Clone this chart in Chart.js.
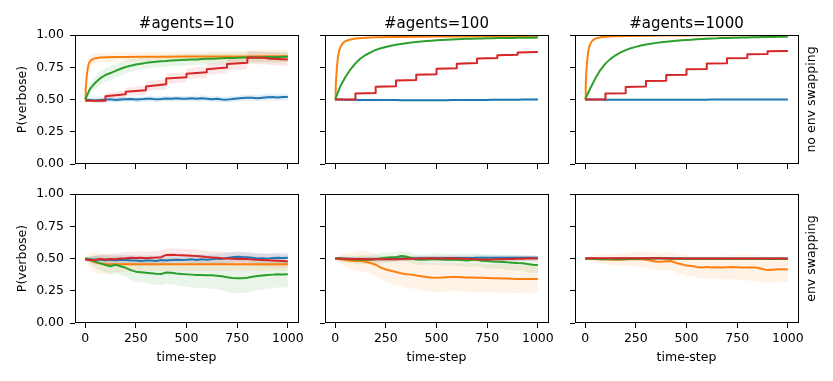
<!DOCTYPE html>
<html><head><meta charset="utf-8">
<script src="https://cdn.jsdelivr.net/npm/chart.js@4.4.0/dist/chart.umd.min.js"></script>
<style>
html,body{margin:0;padding:0;background:#fff;width:833px;height:381px;overflow:hidden;position:relative}
canvas{position:absolute}
</style></head><body>
<canvas id="p00" width="333" height="224"></canvas>
<canvas id="p01" width="333" height="224"></canvas>
<canvas id="p02" width="333" height="224"></canvas>
<canvas id="p10" width="333" height="224"></canvas>
<canvas id="p11" width="333" height="224"></canvas>
<canvas id="p12" width="333" height="224"></canvas>
<script>
// ---------- labels / ticks ----------
const PANEL_TITLES = ['#agents=10', '#agents=100', '#agents=1000'];
const ROW_LABELS = ['no env swapping', 'env swapping'];
const X_TITLE = 'time-step';
const Y_TITLE = 'P(verbose)';
const X_TICKS = [0, 250, 500, 750, 1000];
const X_TICK_LABELS = ['0', '250', '500', '750', '1000'];
const Y_TICKS = [0, 0.25, 0.5, 0.75, 1];
const Y_TICK_LABELS = ['0.00', '0.25', '0.50', '0.75', '1.00'];

// ---------- time grids ----------
const X_STEPS = [0,25,50,75,100,125,150,175,200,225,250,275,300,325,350,375,400,425,450,475,500,525,550,575,600,625,650,675,700,725,750,775,800,825,850,875,900,925,950,975,1000];
const X_FAST = [0,3,6,10,15,20,30,40,50,75,100,150,200,300,400,500,600,700,800,900,1000];
const X_STAIR = [0,100,100,200,200,300,300,400,400,500,500,600,600,700,700,800,800,900,900,1000];

// ---------- #agents=10, no env swapping ----------
const n10_noswap_blue = [
0.500,0.497,0.493,0.496,0.499,0.501,0.497,0.500,0.502,0.504,
0.500,0.501,0.505,0.506,0.501,0.504,0.508,0.505,0.509,0.506,
0.505,0.509,0.506,0.510,0.506,0.502,0.505,0.500,0.499,0.503,
0.508,0.511,0.514,0.513,0.510,0.514,0.518,0.519,0.516,0.519,
0.520];
const n10_noswap_blue_ci = [
0.005,0.015,0.018,0.020,0.020,0.020,0.020,0.020,0.020,0.020,
0.020,0.021,0.021,0.022,0.022,0.022,0.022,0.022,0.022,0.022,
0.022,0.022,0.022,0.022,0.022,0.022,0.022,0.022,0.022,0.022,
0.022,0.022,0.023,0.023,0.023,0.024,0.024,0.024,0.025,0.025,
0.025];
const n10_noswap_orange = [0.500,0.580,0.650,0.710,0.760,0.785,0.805,0.815,0.820,0.825,0.828,0.830,0.830,0.832,0.832,0.833,0.833,0.834,0.834,0.835,0.835];
const n10_noswap_orange_ci = [0.010,0.040,0.050,0.050,0.050,0.050,0.045,0.040,0.040,0.035,0.035,0.035,0.035,0.035,0.035,0.035,0.040,0.040,0.045,0.050,0.050];
const n10_noswap_green = [
0.500,0.585,0.630,0.665,0.690,0.705,0.722,0.738,0.752,0.762,
0.772,0.778,0.784,0.789,0.793,0.797,0.799,0.802,0.804,0.806,
0.808,0.810,0.811,0.813,0.815,0.816,0.818,0.820,0.821,0.822,
0.823,0.825,0.826,0.827,0.828,0.828,0.829,0.830,0.830,0.831,
0.832];
const n10_noswap_green_ci = [
0.010,0.040,0.050,0.055,0.055,0.055,0.050,0.050,0.050,0.050,
0.045,0.045,0.045,0.045,0.045,0.045,0.045,0.045,0.045,0.045,
0.045,0.045,0.042,0.042,0.042,0.042,0.040,0.040,0.040,0.040,
0.040,0.040,0.040,0.040,0.040,0.040,0.040,0.040,0.040,0.040,
0.040];
const n10_noswap_red = [0.490,0.490,0.525,0.540,0.560,0.572,0.600,0.618,0.662,0.672,0.700,0.712,0.735,0.748,0.775,0.785,0.825,0.822,0.818,0.810];
const n10_noswap_red_ci = [0.010,0.020,0.025,0.030,0.030,0.035,0.035,0.040,0.040,0.040,0.040,0.045,0.045,0.045,0.050,0.050,0.050,0.050,0.050,0.050];

// ---------- #agents=100, no env swapping ----------
const n100_noswap_blue = [
0.500,0.500,0.499,0.498,0.498,0.497,0.497,0.497,0.496,0.496,
0.496,0.496,0.496,0.495,0.495,0.495,0.495,0.495,0.495,0.495,
0.495,0.495,0.495,0.496,0.496,0.496,0.496,0.497,0.497,0.497,
0.497,0.498,0.498,0.498,0.499,0.499,0.499,0.500,0.500,0.500,
0.500];
const n100_noswap_blue_ci = [
0.003,0.006,0.007,0.008,0.008,0.008,0.008,0.008,0.008,0.008,
0.008,0.008,0.008,0.008,0.008,0.008,0.008,0.008,0.008,0.008,
0.008,0.008,0.008,0.008,0.008,0.008,0.008,0.008,0.008,0.008,
0.008,0.008,0.008,0.008,0.008,0.008,0.008,0.008,0.008,0.008,
0.008];
const n100_noswap_orange = [0.500,0.600,0.690,0.770,0.840,0.880,0.920,0.940,0.952,0.965,0.972,0.978,0.982,0.985,0.987,0.988,0.989,0.990,0.990,0.990,0.990];
const n100_noswap_orange_ci = [0.005,0.020,0.020,0.020,0.015,0.015,0.010,0.010,0.010,0.008,0.006,0.005,0.005,0.004,0.004,0.004,0.004,0.004,0.004,0.004,0.004];
const n100_noswap_green = [
0.500,0.600,0.672,0.732,0.780,0.818,0.845,0.866,0.884,0.897,
0.907,0.916,0.924,0.930,0.936,0.941,0.946,0.950,0.953,0.956,
0.959,0.961,0.963,0.965,0.967,0.969,0.970,0.971,0.972,0.973,
0.974,0.975,0.976,0.976,0.977,0.977,0.978,0.978,0.979,0.979,
0.980];
const n100_noswap_green_ci = [
0.005,0.015,0.015,0.012,0.010,0.010,0.008,0.008,0.007,0.006,
0.005,0.005,0.005,0.005,0.005,0.005,0.005,0.005,0.005,0.005,
0.005,0.005,0.005,0.005,0.005,0.005,0.005,0.005,0.005,0.005,
0.005,0.005,0.005,0.005,0.005,0.005,0.005,0.005,0.005,0.005,
0.005];
const n100_noswap_red = [0.500,0.500,0.546,0.550,0.598,0.602,0.648,0.652,0.692,0.696,0.738,0.742,0.778,0.782,0.817,0.821,0.843,0.846,0.865,0.868];
const n100_noswap_red_ci = [0.004,0.005,0.006,0.007,0.007,0.008,0.008,0.008,0.008,0.008,0.008,0.008,0.008,0.008,0.008,0.008,0.008,0.008,0.008,0.008];

// ---------- #agents=1000, no env swapping ----------
const n1000_noswap_blue = [
0.500,0.500,0.500,0.500,0.499,0.499,0.499,0.499,0.499,0.499,
0.499,0.499,0.499,0.499,0.499,0.499,0.499,0.499,0.499,0.499,
0.499,0.499,0.499,0.499,0.499,0.500,0.500,0.500,0.500,0.500,
0.500,0.500,0.500,0.500,0.500,0.500,0.500,0.500,0.500,0.500,
0.500];
const n1000_noswap_blue_ci = [
0.002,0.003,0.003,0.003,0.003,0.003,0.003,0.003,0.003,0.003,
0.003,0.003,0.003,0.003,0.003,0.003,0.003,0.003,0.003,0.003,
0.003,0.003,0.003,0.003,0.003,0.003,0.003,0.003,0.003,0.003,
0.003,0.003,0.003,0.003,0.003,0.003,0.003,0.003,0.003,0.003,
0.003];
const n1000_noswap_orange = [0.500,0.620,0.720,0.800,0.870,0.910,0.945,0.962,0.972,0.982,0.987,0.991,0.993,0.995,0.996,0.997,0.998,0.998,0.999,0.999,1.000];
const n1000_noswap_orange_ci = [0.003,0.008,0.008,0.008,0.006,0.005,0.004,0.003,0.003,0.002,0.002,0.002,0.002,0.002,0.002,0.002,0.002,0.002,0.002,0.002,0.002];
const n1000_noswap_green = [
0.500,0.585,0.662,0.728,0.778,0.815,0.843,0.865,0.883,0.897,
0.908,0.918,0.926,0.933,0.939,0.944,0.948,0.952,0.956,0.959,
0.962,0.964,0.967,0.969,0.971,0.973,0.974,0.976,0.977,0.978,
0.979,0.980,0.981,0.982,0.983,0.984,0.984,0.985,0.986,0.986,
0.987];
const n1000_noswap_green_ci = [
0.002,0.003,0.003,0.003,0.003,0.003,0.003,0.003,0.003,0.003,
0.003,0.003,0.003,0.003,0.003,0.003,0.003,0.003,0.003,0.003,
0.003,0.003,0.003,0.003,0.003,0.003,0.003,0.003,0.003,0.003,
0.003,0.003,0.003,0.003,0.003,0.003,0.003,0.003,0.003,0.003,
0.003];
const n1000_noswap_red = [0.500,0.500,0.547,0.549,0.597,0.600,0.643,0.646,0.690,0.692,0.734,0.736,0.779,0.781,0.819,0.821,0.850,0.852,0.874,0.876];
const n1000_noswap_red_ci = [0.002,0.003,0.003,0.003,0.003,0.003,0.003,0.003,0.003,0.003,0.003,0.003,0.003,0.003,0.003,0.003,0.003,0.003,0.003,0.003];

// ---------- #agents=10, env swapping ----------
const n10_swap_blue = [
0.500,0.495,0.490,0.492,0.487,0.490,0.486,0.490,0.489,0.486,
0.484,0.481,0.485,0.484,0.480,0.488,0.485,0.489,0.490,0.488,
0.490,0.494,0.489,0.495,0.491,0.494,0.499,0.497,0.504,0.509,
0.514,0.511,0.509,0.505,0.500,0.501,0.499,0.503,0.505,0.504,
0.506];
const n10_swap_blue_ci = [
0.005,0.020,0.030,0.035,0.035,0.040,0.040,0.040,0.040,0.040,
0.040,0.040,0.040,0.040,0.040,0.040,0.040,0.040,0.040,0.040,
0.040,0.040,0.040,0.040,0.040,0.040,0.040,0.040,0.040,0.040,
0.040,0.040,0.040,0.040,0.040,0.040,0.040,0.040,0.040,0.040,
0.040];
const n10_swap_orange = [
0.500,0.485,0.470,0.462,0.458,0.456,0.455,0.455,0.455,0.455,
0.455,0.455,0.455,0.455,0.455,0.455,0.455,0.455,0.455,0.455,
0.455,0.455,0.455,0.455,0.455,0.455,0.455,0.455,0.455,0.455,
0.455,0.455,0.455,0.455,0.455,0.455,0.455,0.455,0.455,0.455,
0.455];
const n10_swap_orange_ci = [
0.005,0.060,0.080,0.080,0.075,0.070,0.065,0.060,0.060,0.055,
0.050,0.050,0.050,0.050,0.050,0.050,0.050,0.050,0.050,0.050,
0.050,0.050,0.050,0.050,0.050,0.050,0.050,0.050,0.050,0.050,
0.050,0.050,0.050,0.050,0.050,0.050,0.050,0.050,0.050,0.050,
0.050];
const n10_swap_green = [
0.500,0.490,0.476,0.462,0.450,0.440,0.452,0.440,0.428,0.410,
0.398,0.394,0.390,0.386,0.381,0.380,0.392,0.389,0.384,0.380,
0.377,0.375,0.373,0.372,0.370,0.371,0.367,0.362,0.355,0.349,
0.346,0.347,0.350,0.358,0.365,0.369,0.372,0.375,0.377,0.376,
0.378];
const n10_swap_green_ci = [
0.005,0.030,0.045,0.055,0.060,0.065,0.065,0.070,0.070,0.075,
0.080,0.080,0.080,0.085,0.085,0.090,0.090,0.090,0.090,0.095,
0.095,0.100,0.100,0.100,0.100,0.105,0.105,0.110,0.110,0.115,
0.115,0.115,0.115,0.110,0.110,0.110,0.105,0.105,0.100,0.100,
0.100];
const n10_swap_red = [
0.490,0.488,0.491,0.496,0.493,0.497,0.495,0.500,0.502,0.505,
0.503,0.506,0.502,0.505,0.507,0.510,0.528,0.530,0.527,0.526,
0.524,0.521,0.519,0.515,0.511,0.508,0.505,0.502,0.500,0.498,
0.496,0.499,0.496,0.492,0.490,0.489,0.487,0.485,0.483,0.480,
0.477];
const n10_swap_red_ci = [
0.005,0.020,0.030,0.035,0.040,0.040,0.045,0.045,0.050,0.050,
0.050,0.050,0.050,0.050,0.050,0.050,0.050,0.050,0.050,0.050,
0.050,0.050,0.050,0.050,0.050,0.050,0.050,0.050,0.050,0.050,
0.050,0.050,0.050,0.050,0.050,0.050,0.050,0.050,0.050,0.050,
0.050];

// ---------- #agents=100, env swapping ----------
const n100_swap_blue = [
0.500,0.500,0.499,0.498,0.497,0.497,0.496,0.497,0.497,0.498,
0.497,0.498,0.499,0.500,0.500,0.501,0.501,0.502,0.502,0.501,
0.502,0.502,0.503,0.503,0.503,0.504,0.504,0.504,0.505,0.505,
0.505,0.506,0.506,0.505,0.506,0.506,0.505,0.506,0.506,0.506,
0.506];
const n100_swap_blue_ci = [
0.005,0.010,0.012,0.014,0.015,0.016,0.017,0.018,0.018,0.018,
0.018,0.018,0.018,0.018,0.019,0.019,0.019,0.019,0.019,0.019,
0.020,0.020,0.020,0.020,0.020,0.020,0.020,0.020,0.020,0.020,
0.020,0.020,0.020,0.020,0.020,0.020,0.020,0.020,0.020,0.020,
0.020];
const n100_swap_orange = [
0.500,0.495,0.488,0.483,0.481,0.480,0.475,0.465,0.452,0.430,
0.415,0.405,0.395,0.385,0.377,0.375,0.368,0.362,0.357,0.352,
0.351,0.352,0.355,0.356,0.356,0.355,0.353,0.352,0.350,0.350,
0.348,0.346,0.346,0.345,0.345,0.343,0.342,0.342,0.341,0.341,
0.341];
const n100_swap_orange_ci = [
0.005,0.030,0.050,0.060,0.070,0.080,0.080,0.085,0.090,0.090,
0.095,0.100,0.100,0.100,0.105,0.105,0.105,0.110,0.110,0.110,
0.110,0.110,0.110,0.110,0.110,0.110,0.110,0.110,0.110,0.110,
0.110,0.110,0.110,0.110,0.110,0.110,0.110,0.110,0.110,0.110,
0.110];
const n100_swap_green = [
0.500,0.500,0.497,0.495,0.490,0.490,0.492,0.490,0.495,0.500,
0.505,0.510,0.510,0.520,0.515,0.505,0.492,0.490,0.493,0.495,
0.495,0.493,0.490,0.492,0.490,0.488,0.485,0.490,0.490,0.483,
0.480,0.476,0.475,0.473,0.470,0.468,0.465,0.463,0.458,0.452,
0.450];
const n100_swap_green_ci = [
0.005,0.020,0.025,0.030,0.030,0.035,0.035,0.035,0.040,0.040,
0.040,0.040,0.040,0.040,0.040,0.040,0.040,0.040,0.040,0.040,
0.045,0.045,0.045,0.045,0.045,0.050,0.050,0.050,0.050,0.050,
0.055,0.055,0.055,0.055,0.060,0.060,0.060,0.060,0.065,0.065,
0.065];
const n100_swap_red = [
0.500,0.499,0.498,0.497,0.496,0.497,0.495,0.494,0.495,0.494,
0.495,0.494,0.495,0.497,0.498,0.498,0.499,0.500,0.500,0.501,
0.500,0.500,0.500,0.501,0.500,0.499,0.498,0.496,0.494,0.493,
0.492,0.493,0.494,0.495,0.496,0.497,0.498,0.499,0.500,0.500,
0.500];
const n100_swap_red_ci = [
0.005,0.010,0.012,0.014,0.015,0.016,0.017,0.018,0.018,0.018,
0.018,0.018,0.018,0.018,0.019,0.019,0.019,0.019,0.019,0.019,
0.020,0.020,0.020,0.020,0.020,0.020,0.020,0.020,0.020,0.020,
0.020,0.020,0.020,0.020,0.020,0.020,0.020,0.020,0.020,0.020,
0.020];

// ---------- #agents=1000, env swapping ----------
const n1000_swap_blue = [
0.500,0.500,0.500,0.499,0.499,0.499,0.499,0.500,0.500,0.500,
0.500,0.500,0.500,0.501,0.501,0.501,0.501,0.501,0.500,0.500,
0.500,0.500,0.500,0.500,0.500,0.500,0.500,0.500,0.500,0.500,
0.500,0.500,0.500,0.500,0.500,0.500,0.500,0.500,0.500,0.500,
0.500];
const n1000_swap_blue_ci = [
0.003,0.005,0.006,0.007,0.008,0.008,0.008,0.008,0.008,0.008,
0.008,0.008,0.008,0.008,0.008,0.008,0.008,0.008,0.008,0.008,
0.008,0.008,0.008,0.008,0.008,0.008,0.008,0.008,0.008,0.008,
0.008,0.008,0.008,0.008,0.008,0.008,0.008,0.008,0.008,0.008,
0.008];
const n1000_swap_orange = [
0.500,0.500,0.498,0.495,0.495,0.493,0.490,0.490,0.495,0.495,
0.495,0.495,0.490,0.485,0.475,0.475,0.478,0.480,0.465,0.455,
0.445,0.442,0.435,0.430,0.434,0.430,0.432,0.430,0.432,0.435,
0.433,0.430,0.430,0.432,0.428,0.418,0.410,0.413,0.416,0.417,
0.414];
const n1000_swap_orange_ci = [
0.005,0.020,0.030,0.035,0.040,0.040,0.045,0.045,0.050,0.050,
0.055,0.060,0.060,0.065,0.065,0.070,0.070,0.070,0.075,0.075,
0.080,0.080,0.085,0.085,0.090,0.090,0.090,0.090,0.095,0.095,
0.095,0.100,0.100,0.100,0.100,0.100,0.100,0.100,0.100,0.100,
0.100];
const n1000_swap_green = [
0.500,0.498,0.496,0.495,0.494,0.494,0.494,0.495,0.495,0.496,
0.497,0.498,0.499,0.500,0.501,0.501,0.500,0.499,0.499,0.498,
0.498,0.497,0.497,0.497,0.497,0.497,0.497,0.497,0.497,0.497,
0.497,0.497,0.497,0.497,0.497,0.497,0.497,0.497,0.497,0.497,
0.497];
const n1000_swap_green_ci = [
0.003,0.005,0.006,0.007,0.008,0.008,0.008,0.008,0.008,0.008,
0.008,0.008,0.008,0.008,0.008,0.008,0.008,0.008,0.008,0.008,
0.008,0.008,0.008,0.008,0.008,0.008,0.008,0.008,0.008,0.008,
0.008,0.008,0.008,0.008,0.008,0.008,0.008,0.008,0.008,0.008,
0.008];
const n1000_swap_red = [
0.500,0.501,0.501,0.501,0.501,0.502,0.502,0.502,0.502,0.502,
0.502,0.502,0.501,0.501,0.501,0.501,0.501,0.500,0.500,0.500,
0.500,0.500,0.500,0.500,0.500,0.500,0.500,0.500,0.500,0.500,
0.500,0.500,0.500,0.500,0.500,0.500,0.500,0.500,0.500,0.500,
0.500];
const n1000_swap_red_ci = [
0.003,0.005,0.006,0.007,0.008,0.008,0.008,0.008,0.008,0.008,
0.008,0.008,0.008,0.008,0.008,0.008,0.008,0.008,0.008,0.008,
0.008,0.008,0.008,0.008,0.008,0.008,0.008,0.008,0.008,0.008,
0.008,0.008,0.008,0.008,0.008,0.008,0.008,0.008,0.008,0.008,
0.008];

// ---------- assembly ----------
const COLORS = ['#1f77b4', '#ff7f0e', '#2ca02c', '#d62728'];
const BAND_COLORS = ['rgba(31,119,180,0.13)', 'rgba(255,127,14,0.10)', 'rgba(44,160,44,0.10)', 'rgba(214,39,40,0.10)'];

const PANELS = [
  {id:'p00', row:0, col:0, series:[
    [X_STEPS, n10_noswap_blue, n10_noswap_blue_ci],
    [X_FAST, n10_noswap_orange, n10_noswap_orange_ci],
    [X_STEPS, n10_noswap_green, n10_noswap_green_ci],
    [X_STAIR, n10_noswap_red, n10_noswap_red_ci]]},
  {id:'p01', row:0, col:1, series:[
    [X_STEPS, n100_noswap_blue, n100_noswap_blue_ci],
    [X_FAST, n100_noswap_orange, n100_noswap_orange_ci],
    [X_STEPS, n100_noswap_green, n100_noswap_green_ci],
    [X_STAIR, n100_noswap_red, n100_noswap_red_ci]]},
  {id:'p02', row:0, col:2, series:[
    [X_STEPS, n1000_noswap_blue, n1000_noswap_blue_ci],
    [X_FAST, n1000_noswap_orange, n1000_noswap_orange_ci],
    [X_STEPS, n1000_noswap_green, n1000_noswap_green_ci],
    [X_STAIR, n1000_noswap_red, n1000_noswap_red_ci]]},
  {id:'p10', row:1, col:0, series:[
    [X_STEPS, n10_swap_blue, n10_swap_blue_ci],
    [X_STEPS, n10_swap_orange, n10_swap_orange_ci],
    [X_STEPS, n10_swap_green, n10_swap_green_ci],
    [X_STEPS, n10_swap_red, n10_swap_red_ci]]},
  {id:'p11', row:1, col:1, series:[
    [X_STEPS, n100_swap_blue, n100_swap_blue_ci],
    [X_STEPS, n100_swap_orange, n100_swap_orange_ci],
    [X_STEPS, n100_swap_green, n100_swap_green_ci],
    [X_STEPS, n100_swap_red, n100_swap_red_ci]]},
  {id:'p12', row:1, col:2, series:[
    [X_STEPS, n1000_swap_blue, n1000_swap_blue_ci],
    [X_STEPS, n1000_swap_orange, n1000_swap_orange_ci],
    [X_STEPS, n1000_swap_green, n1000_swap_green_ci],
    [X_STEPS, n1000_swap_red, n1000_swap_red_ci]]}
];

// ---------- layout ----------
const PLOT_LEFT = [75, 325, 575];
const PLOT_TOP = [35, 194];
const Y_AXIS_W = 75, X_AXIS_H = 60, PAD_TOP = 35, PAD_RIGHT = 35;
const FONT = 'DejaVu Sans';

Chart.defaults.font.family = FONT;
Chart.defaults.color = '#000';

const framePlugin = {
  id: 'frame',
  afterDraw(chart, args, opts) {
    const ctx = chart.ctx, a = chart.chartArea;
    ctx.save();
    ctx.strokeStyle = '#000';
    ctx.lineWidth = 1;
    const l = Math.round(a.left) + 0.5, t = Math.round(a.top) + 0.5;
    const r = Math.round(a.right) + 0.5, b = Math.round(a.bottom) - 0.5;
    ctx.strokeRect(l, t, r - l, b - t);
    ctx.fillStyle = '#000';
    if (opts.title) {
      ctx.font = '15px "' + FONT + '"';
      ctx.textAlign = 'center';
      ctx.textBaseline = 'alphabetic';
      ctx.fillText(opts.title, (a.left + a.right) / 2, a.top - 7.5);
    }
    if (opts.rowLabel) {
      ctx.translate(a.right + 14, (a.top + a.bottom) / 2);
      ctx.rotate(-Math.PI / 2);
      ctx.font = '12.5px "' + FONT + '"';
      ctx.textAlign = 'center';
      ctx.textBaseline = 'middle';
      ctx.fillText(opts.rowLabel, 0, 0);
    }
    ctx.restore();
  }
};

PANELS.forEach(p => {
  const cv = document.getElementById(p.id);
  cv.style.left = (PLOT_LEFT[p.col] - Y_AXIS_W) + 'px';
  cv.style.top = (PLOT_TOP[p.row] - PAD_TOP) + 'px';
  const datasets = [];
  p.series.forEach((s, i) => {
    const [xs, ys, ci] = s;
    if (xs.length !== ys.length || ys.length !== ci.length) {
      throw new Error('length mismatch ' + p.id + ' series ' + i + ': ' + xs.length + '/' + ys.length + '/' + ci.length);
    }
    datasets.push({data: xs.map((x, k) => ({x, y: ys[k] - ci[k]})), borderWidth: 0, pointRadius: 0, fill: false, order: 20});
    datasets.push({data: xs.map((x, k) => ({x, y: ys[k] + ci[k]})), borderWidth: 0, pointRadius: 0, fill: '-1', backgroundColor: BAND_COLORS[i], order: 20});
  });
  p.series.forEach((s, i) => {
    const [xs, ys] = s;
    datasets.push({data: xs.map((x, k) => ({x, y: ys[k]})), borderColor: COLORS[i], borderWidth: 2, pointRadius: 0, fill: false, tension: 0, order: 4 - i, borderJoinStyle: 'round', borderCapStyle: 'butt'});
  });
  const tickFont = {family: FONT, size: 12.5};
  new Chart(cv, {
    type: 'line',
    data: {datasets},
    options: {
      responsive: false, animation: false, devicePixelRatio: 1,
      layout: {padding: {left: 0, top: PAD_TOP, right: PAD_RIGHT, bottom: 0}},
      plugins: {
        legend: {display: false}, tooltip: {enabled: false},
        frame: {title: p.row === 0 ? PANEL_TITLES[p.col] : '', rowLabel: p.col === 2 ? ROW_LABELS[p.row] : ''}
      },
      scales: {
        x: {
          type: 'linear', min: -50, max: 1050,
          afterBuildTicks: sc => { sc.ticks = X_TICKS.map(v => ({value: v})); },
          afterFit: sc => { sc.height = X_AXIS_H; },
          ticks: {autoSkip: false, maxRotation: 0, minRotation: 0, padding: 3, color: '#000', font: tickFont,
                  callback: (v, i) => p.row === 1 ? X_TICK_LABELS[i] : ''},
          grid: {display: true, drawOnChartArea: false, drawTicks: true, tickLength: 5, tickWidth: 1, tickColor: '#000', color: '#000'},
          border: {display: false},
          title: {display: p.row === 1, text: X_TITLE, color: '#000', font: tickFont, padding: {top: 0, bottom: 17.5}}
        },
        y: {
          type: 'linear', min: 0, max: 1,
          afterBuildTicks: sc => { sc.ticks = Y_TICKS.map(v => ({value: v})); },
          afterFit: sc => { sc.width = Y_AXIS_W; },
          ticks: {autoSkip: false, padding: 6, color: '#000', font: tickFont,
                  callback: (v, i) => p.col === 0 ? Y_TICK_LABELS[i] : ''},
          grid: {display: true, drawOnChartArea: false, drawTicks: true, tickLength: 5, tickWidth: 1, tickColor: '#000', color: '#000'},
          border: {display: false},
          title: {display: p.col === 0, text: Y_TITLE, color: '#000', font: tickFont, padding: {top: 15, bottom: 0}}
        }
      }
    },
    plugins: [framePlugin]
  });
});
</script>
</body></html>
